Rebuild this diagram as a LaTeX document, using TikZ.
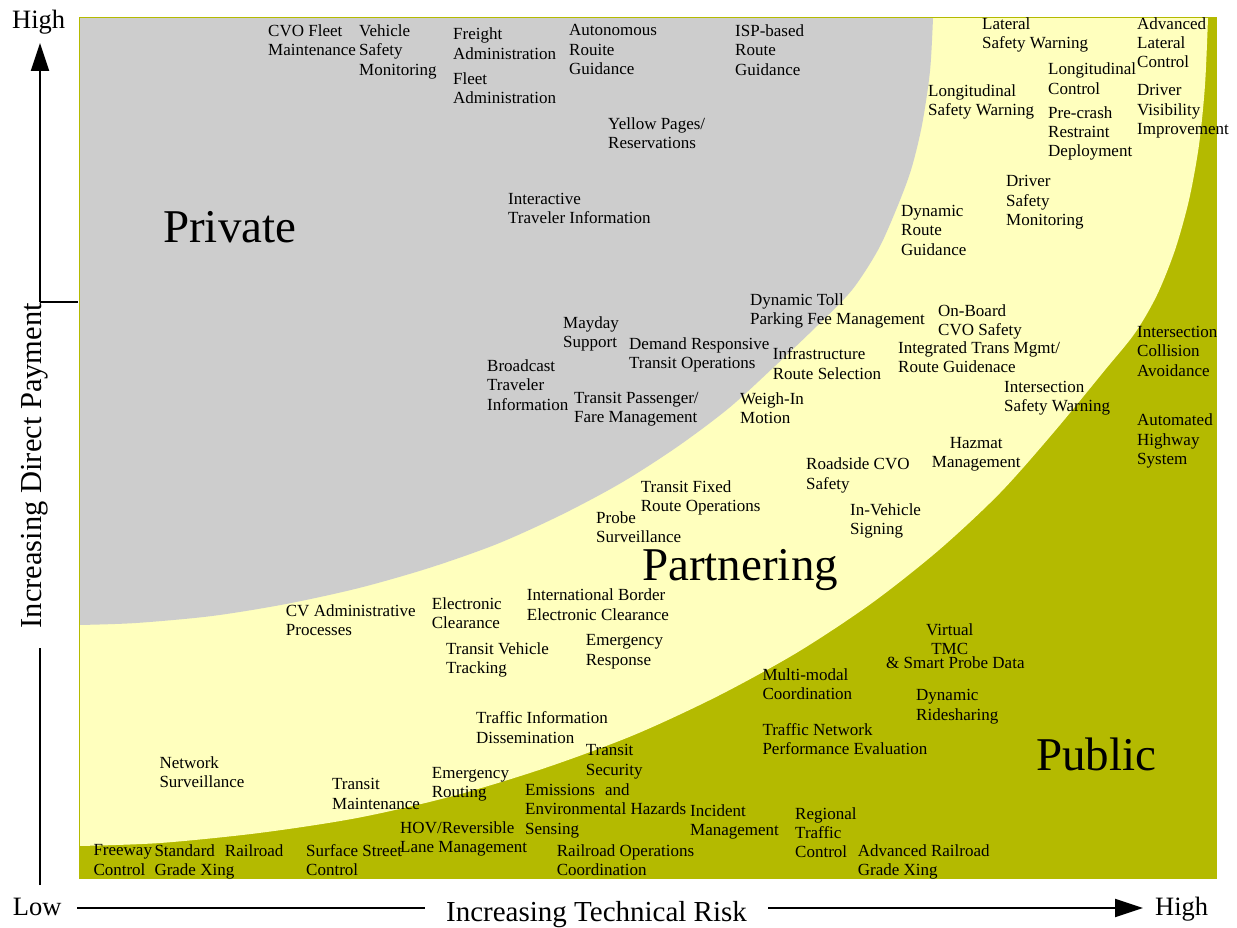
\documentclass[tikz,border=0pt]{standalone}
\usepackage{fontspec}
\setmainfont{Liberation Serif}
\usepackage{tikz}
\usetikzlibrary{arrows.meta}

\definecolor{publicolive}{RGB}{180,186,0}
\definecolor{partneryellow}{RGB}{255,255,190}
\definecolor{privategray}{RGB}{205,205,205}

\newcommand{\lblfont}{\fontsize{17}{19.3}\selectfont}
\newcommand{\zonefont}{\fontsize{47}{50}\selectfont}
\newcommand{\axisfont}{\fontsize{29}{32}\selectfont}
\newcommand{\yaxisfont}{\fontsize{30.5}{32}\selectfont}
\newcommand{\tipfont}{\fontsize{26.5}{30}\selectfont}

\begin{document}
\begin{tikzpicture}[x=1pt,y=-1pt]

\tikzstyle{lbl} = [anchor=north west, yshift=11.5pt, inner sep=0pt, align=left, font=\lblfont]
\tikzstyle{clbl} = [lbl, align=center]
\tikzstyle{zone} = [anchor=base west, inner sep=0pt, font=\zonefont]
\tikzstyle{tiplbl} = [anchor=base west, inner sep=0pt, font=\tipfont]
\tikzstyle{axislbl} = [anchor=base, inner sep=0pt, font=\axisfont]
\tikzstyle{axisline} = [draw, line width=2.2pt]
\tikzstyle{axisarrow} = [axisline, -{Triangle[length=28pt,width=18pt]}]

\useasboundingbox (0,0) rectangle (1237,928);

%regions
\fill[publicolive] (79,18) rectangle (1216,878);
\fill[partneryellow] (79,18) -- plot[smooth] coordinates {(1208,18) (1205,85) (1199,145) (1189,200)
  (1175,250) (1157,295) (1135,333) (1105,370) (1054,432) (1000,493) (939,550) (872,603) (798,652)
  (718,696) (634,735) (545,768) (453,796) (357,818) (259,833) (160,843) (79,846)} -- cycle;
\fill[privategray] (79,18) -- plot[smooth] coordinates {(933,18) (930,71) (922,125) (911,170)
  (896,210) (878,250) (852,290) (818,325) (775,366) (729,408) (677,447) (621,483) (561,515)
  (497,544) (429,568) (359,588) (286,604) (212,616) (136,623) (79,625)} -- cycle;
\draw[publicolive, line width=1pt] (79,18) rectangle (1216,878);

%zones
\node[zone] (private) at (163,243) {Private};
\node[zone] (partnering) at (642,580) {Partnering};
\node[zone] (public) at (1036,770) {Public};

%private
\node[lbl] (cvofleet) at (268,36) {CVO Fleet\\Maintenance};
\node[lbl] (vehsafety) at (359,36) {Vehicle\\Safety\\Monitoring};
\node[lbl] (freight) at (453,39.3) {Freight\\Administration};
\node[lbl] (fleetadm) at (453,83.7) {Fleet\\Administration};
\node[lbl] (autoroute) at (569,36) {Autonomous\\Rouite\\Guidance};
\node[lbl] (isproute) at (735,36) {ISP-based\\Route\\Guidance};
\node[lbl] (yellowpages) at (608,128.7) {Yellow Pages/\\Reservations};
\node[lbl] (interactive) at (508,204.7) {Interactive\\Traveler Information};
\node[lbl] (mayday) at (563,327.7) {Mayday\\Support};
\node[lbl] (demand) at (629,348.7) {Demand Responsive\\Transit Operations};
\node[lbl] (broadcast) at (487,371) {Broadcast\\Traveler\\Information};
\node[lbl] (passenger) at (574,403.7) {Transit Passenger/\\Fare Management};

%partnering
\node[lbl] (lateral) at (982,28.7) {Lateral\\Safety Warning};
\node[lbl] (longctrl) at (1048,74.3) {Longitudinal\\Control};
\node[lbl] (longwarn) at (928,96) {Longitudinal\\Safety Warning};
\node[lbl] (precrash) at (1048,117.7) {Pre-crash\\Restraint\\Deployment};
\node[lbl] (driversafety) at (1006,187) {Driver\\Safety\\Monitoring};
\node[lbl] (dynroute) at (901,216.7) {Dynamic\\Route\\Guidance};
\node[lbl] (dyntoll) at (750,305) {Dynamic Toll\\Parking Fee Management};
\node[lbl] (onboard) at (938,316) {On-Board\\CVO Safety};
\node[lbl] (integrated) at (898,352.7) {Integrated Trans Mgmt/\\Route Guidenace};
\node[lbl] (infra) at (772.7,359.3) {Infrastructure\\Route Selection};
\node[lbl] (weighin) at (740,403.7) {Weigh-In\\Motion};
\node[lbl] (intwarn) at (1004,392.7) {Intersection\\Safety Warning};
\node[clbl] (hazmat) at (931.7,448.3) {Hazmat\\Management};
\node[lbl] (roadside) at (806,469.3) {Roadside CVO\\Safety};
\node[lbl] (fixedroute) at (640.7,491.7) {Transit Fixed\\Route Operations};
\node[lbl] (probe) at (596,522.7) {Probe\\Surveillance};
\node[lbl] (invehicle) at (850,515) {In-Vehicle\\Signing};
\node[lbl] (cvadmin) at (285.7,616) {CV Administrative\\Processes};
\node[lbl] (elecclear) at (431.7,608.7) {Electronic\\Clearance};
\node[lbl] (intlborder) at (526.7,600.3) {International Border\\Electronic Clearance};
\node[lbl] (transitveh) at (446,653.7) {Transit Vehicle\\Tracking};
\node[lbl] (emresp) at (585.7,646) {Emergency\\Response};
\node[lbl] (trafficinfo) at (476,723.3) {Traffic Information\\Dissemination};
\node[lbl] (netsurv) at (159.3,767.7) {Network\\Surveillance};
\node[lbl] (emrouting) at (431.7,778.7) {Emergency\\Routing};
\node[lbl] (transitmaint) at (332,790) {Transit\\Maintenance};

%public
\node[lbl] (advlateral) at (1137,28.7) {Advanced\\Lateral\\Control};
\node[lbl] (drivervis) at (1137,96) {Driver\\Visibility\\Improvement};
\node[lbl] (intcoll) at (1137,337.7) {Intersection\\Collision\\Avoidance};
\node[lbl] (ahs) at (1137,425.3) {Automated\\Highway\\System};
\node[clbl] (virtualtmc) at (926,635) {Virtual\\TMC};
\node[lbl] (smartprobe) at (886,667.7) {\& Smart Probe Data};
\node[lbl] (multimodal) at (762.3,680) {Multi-modal\\Coordination};
\node[lbl] (ridesharing) at (916,701) {Dynamic\\Ridesharing};
\node[lbl] (trafficnet) at (762.3,735) {Traffic Network\\Performance Evaluation};
\node[lbl] (transitsec) at (585.7,756) {Transit\\Security};
\node[lbl] (emissions) at (525,795) {Emissions\hspace{10pt}and\\Environmental Hazards\\Sensing};
\node[lbl] (incident) at (690,816) {Incident\\Management};
\node[lbl] (regional) at (795,818.7) {Regional\\Traffic\\Control};
\node[lbl] (hov) at (400,833) {HOV/Reversible\\Lane Management};
\node[lbl] (freeway) at (93.3,856) {Freeway\\Control};
\node[lbl] (stdrail) at (154.3,856) {Standard\hspace{10pt}Railroad\\Grade Xing};
\node[lbl] (surface) at (306,856) {Surface Street\\Control};
\node[lbl] (railops) at (556.7,856) {Railroad Operations\\Coordination};
\node[lbl] (advrail) at (857.7,856) {Advanced Railroad\\Grade Xing};

%axes
\node[tiplbl] (yhigh) at (12,28.3) {High};
\node[tiplbl] (xlow) at (12.7,915) {Low};
\node[tiplbl] (xhigh) at (1155,915) {High};
\node[axislbl, rotate=90, font=\yaxisfont] (ylabel) at (41.7,465.7) {Increasing Direct Payment};
\node[axislbl] (xlabel) at (596.5,921.7) {Increasing Technical Risk};

\coordinate (ybot) at (40,885);
\coordinate (ygap) at (40,648);
\coordinate (yturn) at (40,302);
\coordinate (yedge) at (78,302);
\coordinate (ytip) at (40,43);
\coordinate (xleft) at (77,908);
\coordinate (xgap) at (425,908);
\coordinate (xresume) at (768,908);
\coordinate (xtip) at (1143,908);

%arrows
\path [axisline] (ybot) -- (ygap);
\path [axisarrow] (yturn) -- (ytip);
\path [axisline] (yturn) -- (yedge);
\path [axisline] (xleft) -- (xgap);
\path [axisarrow] (xresume) -- (xtip);
\end{tikzpicture}
\end{document}
